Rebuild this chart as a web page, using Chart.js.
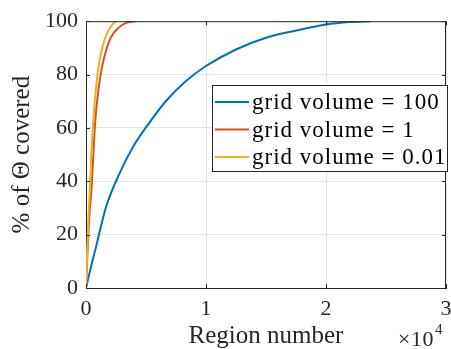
<!DOCTYPE html>
<html>
<head>
<meta charset="utf-8">
<script src="https://cdn.jsdelivr.net/npm/chart.js@4.4.0/dist/chart.umd.min.js"></script>
<style>
  html, body { margin: 0; padding: 0; background: #fff; }
  #wrap { width: 451px; height: 349px; }
</style>
</head>
<body>
<div id="wrap"><canvas id="cov" width="451" height="349"></canvas></div>
<script>
// Coverage curves (x = region number, y = % covered)
const blueX = [0, 417, 833, 1667, 2778, 3889, 5000, 6667, 8333, 10000, 12500, 15000, 17500, 20000, 22000, 23700];
const blueY = [0, 8, 15.4, 30.3, 42.8, 52.7, 60.2, 70.1, 77.6, 83.2, 89.4, 93.8, 96.5, 98.8, 99.7, 100];
const redX = [0, 120, 250, 472, 611, 778, 1056, 1300, 1611, 2083, 2700, 3300, 4100];
const redY = [0, 13, 25, 38, 50, 63, 75, 82, 88, 94, 97.5, 99.3, 100];
const yellowX = [0, 100, 200, 333, 444, 611, 833, 1050, 1250, 1611, 2000, 2361, 2550];
const yellowY = [0, 14, 26, 38, 50, 63, 75, 83, 88, 94, 97.5, 99.5, 100];

const seriesLabels = ['grid volume = 100', 'grid volume = 1', 'grid volume = 0.01'];
const xTicks = [0, 10000, 20000, 30000];
const yTicks = [0, 20, 40, 60, 80, 100];

const FONT = '"Liberation Serif", "Times New Roman", serif';
const AXIS = '#262626';

function pts(xs, ys) {
  return xs.map((x, i) => ({ x: x, y: ys[i] }));
}

// draws the box edges, inward ticks, the legend and the x10^4 multiplier
const matlabLook = {
  id: 'matlabLook',
  afterDraw(chart) {
    const c = chart.ctx;
    const a = chart.chartArea;
    const xs = chart.scales.x, ys = chart.scales.y;
    c.save();
    c.strokeStyle = AXIS;
    c.lineWidth = 1;
    c.beginPath();
    c.moveTo(a.left, a.top + 0.5); c.lineTo(a.right, a.top + 0.5);
    c.moveTo(a.right - 0.5, a.top); c.lineTo(a.right - 0.5, a.bottom);
    const tl = 4;
    xTicks.forEach(v => {
      const px = Math.round(xs.getPixelForValue(v)) + 0.5;
      c.moveTo(px, a.bottom); c.lineTo(px, a.bottom - tl);
      c.moveTo(px, a.top); c.lineTo(px, a.top + tl);
    });
    yTicks.forEach(v => {
      const py = Math.round(ys.getPixelForValue(v)) + 0.5;
      c.moveTo(a.left, py); c.lineTo(a.left + tl, py);
      c.moveTo(a.right, py); c.lineTo(a.right - tl, py);
    });
    c.stroke();

    // legend
    const lx = 212, ly = 85, lw = 235, lh = 86;
    c.fillStyle = '#fff';
    c.fillRect(lx, ly, lw, lh);
    c.strokeStyle = AXIS;
    c.lineWidth = 1;
    c.strokeRect(lx + 0.5, ly + 0.5, lw, lh);
    c.font = '23px ' + FONT;
    c.letterSpacing = '1px';
    c.textBaseline = 'middle';
    c.textAlign = 'left';
    chart.data.datasets.forEach((ds, i) => {
      const y = ly + 17 + i * 27.5;
      c.strokeStyle = ds.borderColor;
      c.lineWidth = 2;
      c.beginPath();
      c.moveTo(lx + 3, y); c.lineTo(lx + 37, y);
      c.stroke();
      c.fillStyle = '#000';
      c.fillText(ds.label, lx + 40, y + 1);
    });

    // x10^4 exponent label
    c.letterSpacing = '0.5px';
    c.fillStyle = AXIS;
    c.textBaseline = 'alphabetic';
    c.font = '22px ' + FONT;
    const base = 346;
    c.fillText('\u00d710', 398, base);
    const w = c.measureText('\u00d710').width;
    c.font = '15px ' + FONT;
    c.fillText('4', 398 + w + 1, base - 12);
    c.restore();
  }
};

new Chart(document.getElementById('cov'), {
  type: 'line',
  data: {
    datasets: [
      { label: seriesLabels[0], data: pts(blueX, blueY), borderColor: '#0072BD', order: 2 },
      { label: seriesLabels[1], data: pts(redX, redY), borderColor: '#D95319', order: 1 },
      { label: seriesLabels[2], data: pts(yellowX, yellowY), borderColor: '#EDB120', order: 0 }
    ].map(d => Object.assign(d, {
      borderWidth: 2,
      pointRadius: 0,
      fill: false,
      cubicInterpolationMode: 'monotone'
    }))
  },
  options: {
    responsive: false,
    animation: false,
    layout: { padding: { top: 20, right: 5, left: 0, bottom: 0 } },
    plugins: { legend: { display: false }, tooltip: { enabled: false } },
    scales: {
      x: {
        type: 'linear',
        min: 0, max: 30000,
        afterBuildTicks(s) { s.ticks = xTicks.map(v => ({ value: v })); },
        afterFit(s) { s.height = 61; s.paddingRight = 0; s.paddingLeft = 0; },
        grid: { color: '#e3e3e3', drawTicks: false },
        border: { color: AXIS },
        ticks: {
          color: AXIS, padding: 8,
          font: { family: FONT, size: 22 },
          callback: v => String(v / 10000)
        },
        title: {
          display: true, text: 'Region number', color: AXIS,
          font: { family: FONT, size: 25, lineHeight: 1 }, padding: { top: 0, bottom: 0 }
        }
      },
      y: {
        min: 0, max: 100,
        afterBuildTicks(s) { s.ticks = yTicks.map(v => ({ value: v })); },
        afterFit(s) { s.width = 86; },
        grid: { color: '#e3e3e3', drawTicks: false },
        border: { color: AXIS },
        ticks: {
          color: AXIS, padding: 8,
          font: { family: FONT, size: 22 }
        },
        title: {
          display: true, text: '% of \u0398 covered', color: AXIS,
          font: { family: FONT, size: 25, lineHeight: 1 }, padding: { top: 10, bottom: 0 }
        }
      }
    }
  },
  plugins: [matlabLook]
});
</script>
</body>
</html>
